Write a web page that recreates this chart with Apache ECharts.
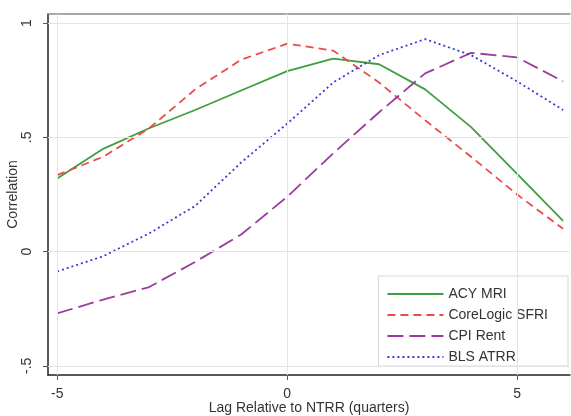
<!DOCTYPE html>
<html>
<head>
<meta charset="utf-8">
<script src="https://cdn.jsdelivr.net/npm/echarts@6/dist/echarts.min.js"></script>
<style>html,body{margin:0;padding:0;background:#fff;}#c{width:571px;height:416px;}</style>
</head>
<body>
<div id="c"></div>
<script>
const lags = [-5, -4, -3, -2, -1, 0, 1, 2, 3, 4, 5, 6];
const acyMRI = [0.32, 0.45, 0.54, 0.62, 0.705, 0.79, 0.845, 0.82, 0.71, 0.545, 0.34, 0.135];
const coreLogicSFRI = [0.335, 0.415, 0.54, 0.71, 0.84, 0.91, 0.88, 0.74, 0.575, 0.415, 0.25, 0.10];
const cpiRent = [-0.27, -0.21, -0.155, -0.045, 0.075, 0.24, 0.43, 0.61, 0.78, 0.87, 0.85, 0.745];
const blsATRR = [-0.087, -0.02, 0.08, 0.2, 0.39, 0.56, 0.74, 0.86, 0.93, 0.86, 0.745, 0.62];
const xTickVals = [-5, 0, 5];
const xTickLabels = ['-5', '0', '5'];
const yTickVals = [-0.5, 0, 0.5, 1];
const yTickLabels = ['-.5', '0', '.5', '1'];
const seriesNames = ['ACY MRI', 'CoreLogic SFRI', 'CPI Rent', 'BLS ATRR'];

const pairs = arr => lags.map((x, i) => [x, arr[i]]);
const font = 'Liberation Sans, Arial, sans-serif';
const chart = echarts.init(document.getElementById('c'), null, {renderer: 'canvas'});

const gridLines = [];
xTickVals.forEach(v => gridLines.push({xAxis: v}));
yTickVals.forEach(v => gridLines.push({yAxis: v}));

chart.setOption({
  animation: false,
  backgroundColor: '#fff',
  grid: {left: 48, right: 1, top: 14, bottom: 41, containLabel: false, outerBoundsMode: 'none'},
  xAxis: [{
    type: 'value', min: -5.2, max: 6.15, position: 'bottom',
    axisLine: {show: true, onZero: false, lineStyle: {color: '#222', width: 1.5}},
    axisTick: {show: true, length: 5, customValues: xTickVals, lineStyle: {color: '#555'}},
    axisLabel: {customValues: xTickVals, formatter: v => xTickLabels[xTickVals.indexOf(v)], color: '#333', fontSize: 14, fontFamily: font, margin: 12},
    splitLine: {show: false},
    name: 'Lag Relative to NTRR (quarters)', nameLocation: 'middle', nameGap: 26, nameMoveOverlap: false,
    nameTextStyle: {color: '#333', fontSize: 14, fontFamily: font}
  }, {
    type: 'value', min: -5.2, max: 6.15, position: 'top',
    axisLine: {show: true, onZero: false, lineStyle: {color: '#8c8c8c', width: 1.5}},
    axisTick: {show: false}, axisLabel: {show: false}, splitLine: {show: false}
  }],
  yAxis: {
    type: 'value', min: -0.54, max: 1.04,
    axisLine: {show: true, onZero: false, lineStyle: {color: '#222', width: 1.5}},
    axisTick: {show: true, length: 5, customValues: yTickVals, lineStyle: {color: '#555'}},
    axisLabel: {customValues: yTickVals, formatter: v => yTickLabels[yTickVals.indexOf(v)], rotate: 90, color: '#333', fontSize: 14, fontFamily: font, margin: 14},
    splitLine: {show: false},
    name: 'Correlation', nameLocation: 'middle', nameGap: 28, nameMoveOverlap: false,
    nameTextStyle: {color: '#333', fontSize: 14, fontFamily: font}
  },
  legend: {
    data: seriesNames,
    orient: 'vertical', right: 3, bottom: 50,
    width: 175,
    backgroundColor: '#fff', borderColor: '#d8d8d8', borderWidth: 1, borderRadius: 0,
    padding: [11, 20, 2, 8],
    itemWidth: 56, itemHeight: 14, itemGap: 7,
    textStyle: {color: '#333', fontSize: 14, fontFamily: font},
    itemStyle: {opacity: 0}
  },
  series: [
    {
      name: 'grid', type: 'line', data: [], z: 0, silent: true,
      markLine: {silent: true, symbol: 'none', label: {show: false},
        lineStyle: {color: '#e4e4e4', type: 'solid', width: 1}, data: gridLines, animation: false}
    },
    {name: seriesNames[0], type: 'line', data: pairs(acyMRI), showSymbol: false, symbol: 'none', z: 3,
      lineStyle: {color: '#3f9e3f', width: 1.8, type: 'solid'}, itemStyle: {color: '#3f9e3f'}},
    {name: seriesNames[1], type: 'line', data: pairs(coreLogicSFRI), showSymbol: false, symbol: 'none', z: 3,
      lineStyle: {color: '#ec4a4a', width: 1.8, type: [8, 5]}, itemStyle: {color: '#ec4a4a'}},
    {name: seriesNames[2], type: 'line', data: pairs(cpiRent), showSymbol: false, symbol: 'none', z: 3,
      lineStyle: {color: '#9a3c9e', width: 1.8, type: [16, 6]}, itemStyle: {color: '#9a3c9e'}},
    {name: seriesNames[3], type: 'line', data: pairs(blsATRR), showSymbol: false, symbol: 'none', z: 3,
      lineStyle: {color: '#3a3ad8', width: 1.8, type: [2, 3]}, itemStyle: {color: '#3a3ad8'}}
  ]
});
</script>
</body>
</html>
